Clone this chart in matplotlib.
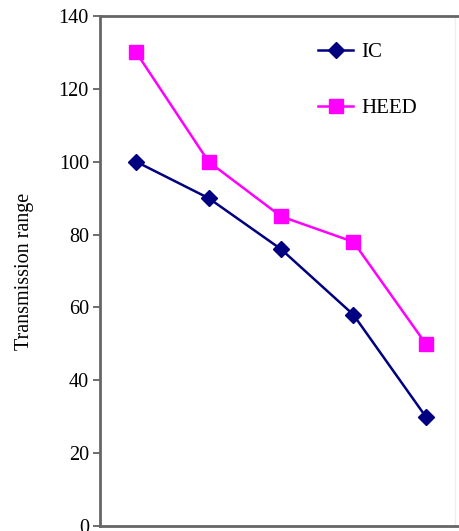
import matplotlib.pyplot as plt
import numpy as np

plt.rcParams['font.family'] = ['Liberation Serif', 'DejaVu Serif']

# values
categories = [1, 2, 3, 4, 5]
ic_range = [100, 90, 76, 58, 30]
heed_range = [130, 100, 85, 78, 50]
y_ticks = [0, 20, 40, 60, 80, 100, 120, 140]

fig = plt.figure(figsize=(4.60, 5.31), dpi=100)
ax = fig.add_axes([100 / 460, 5 / 531, 362 / 460, 510 / 531])

ax.plot(categories, ic_range, color='#000080', marker='D', markersize=8,
        linewidth=1.8, label='IC')
ax.plot(categories, heed_range, color='#ff00ff', marker='s', markersize=10,
        linewidth=1.8, label='HEED')

ax.set_xlim(0.5, 5.5)
ax.set_ylim(0, 140)
ax.set_yticks(y_ticks)
ax.set_xticks([])
ax.tick_params(axis='y', direction='out', length=5, width=1.2,
               color='#555555', labelsize=14.5, pad=3)

for side in ['left', 'bottom', 'top']:
    ax.spines[side].set_color('#666666')
    ax.spines[side].set_linewidth(2)
ax.spines['right'].set_visible(False)
ax.axvline(5.4, color='#eeeeee', linewidth=1)

ax.set_ylabel('Transmission range', fontsize=14.5, labelpad=18)

ax.legend(loc='upper left', bbox_to_anchor=(0.55, 0.985), frameon=False,
          fontsize=15, labelspacing=1.75, handlelength=1.7, handletextpad=0.4)

fig.savefig('out.png', dpi=100)
